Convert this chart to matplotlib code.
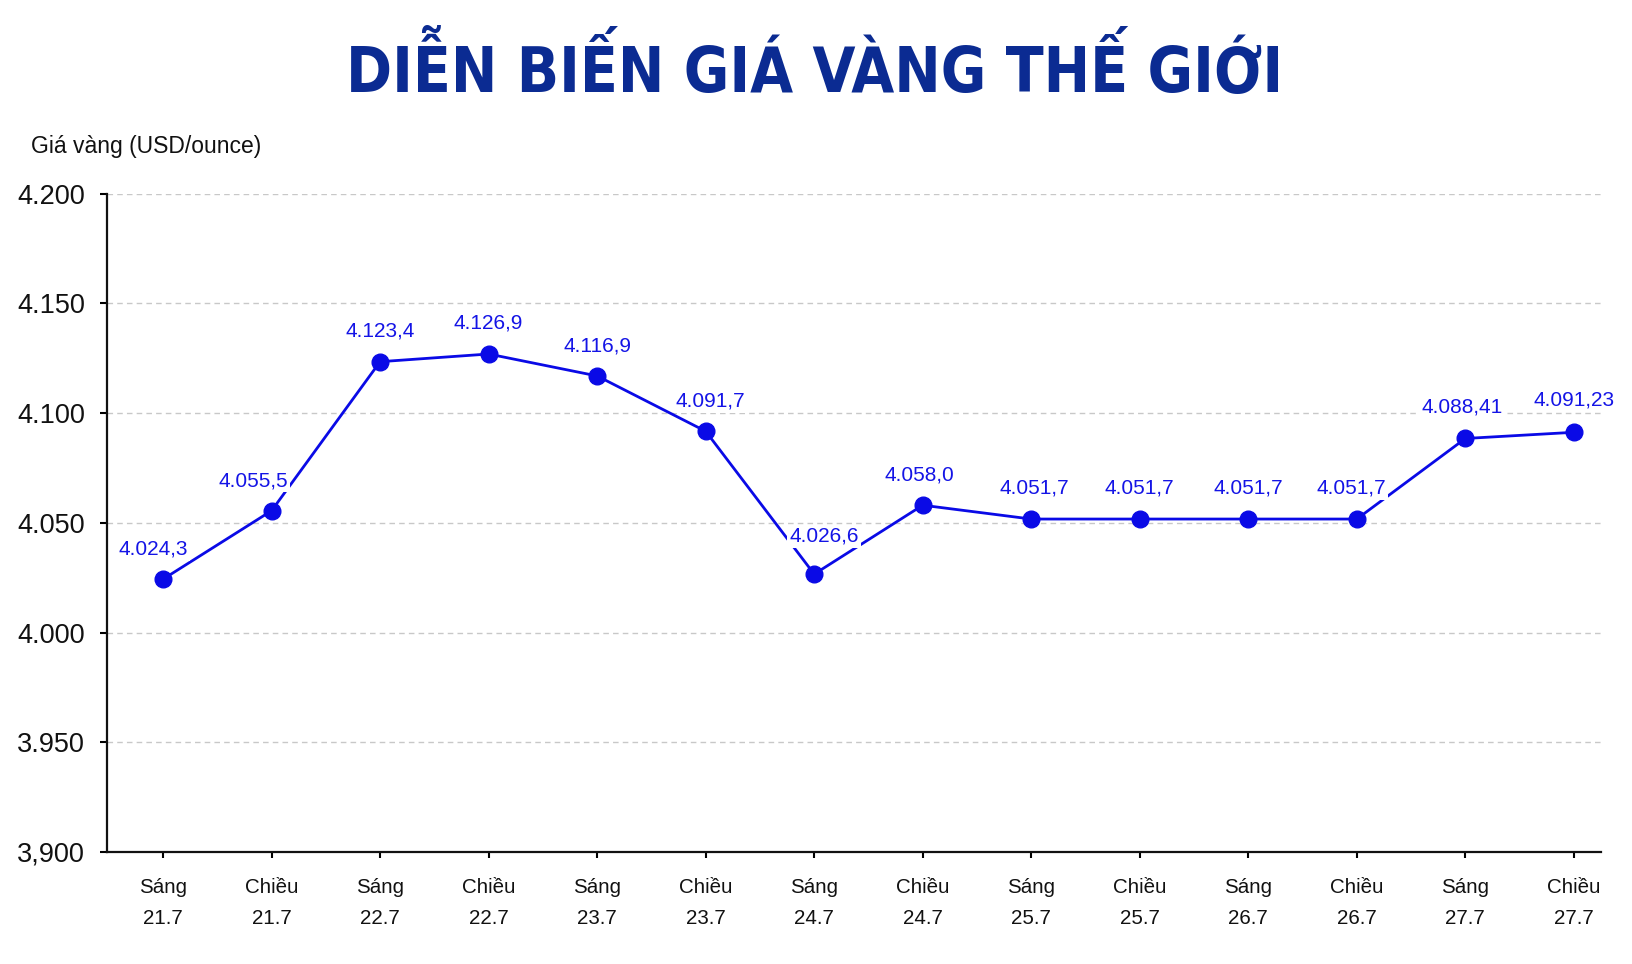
import matplotlib
matplotlib.use("Agg")
import matplotlib.pyplot as plt
from matplotlib import font_manager
from matplotlib.font_manager import FontProperties

plt.rcParams['font.family'] = ['Liberation Sans', 'DejaVu Sans']

# look for a condensed bold face for the title (DejaVu Sans Condensed Bold)
title_font = None
for f in font_manager.fontManager.ttflist:
    if f.name == "DejaVu Sans" and f.stretch == "condensed" and f.weight in (700, "bold"):
        title_font = f.fname
        break

# data
sessions = ["Sáng", "Chiều"] * 7
days = ["21.7", "21.7", "22.7", "22.7", "23.7", "23.7", "24.7",
        "24.7", "25.7", "25.7", "26.7", "26.7", "27.7", "27.7"]
prices = [4024.3, 4055.5, 4123.4, 4126.9, 4116.9, 4091.7, 4026.6,
          4058.0, 4051.7, 4051.7, 4051.7, 4051.7, 4088.41, 4091.23]
decimals = [1, 1, 1, 1, 1, 1, 1, 1, 1, 1, 1, 1, 2, 2]
yticks = [3900, 3950, 4000, 4050, 4100, 4150, 4200]
ytick_labels = ["3,900", "3.950", "4.000", "4.050", "4.100", "4.150", "4.200"]

# label nudges in pixels
label_dx = [-10, -18, 0, 0, 0, 5, 10, -3, 3, 0, 0, -6, -3, 0]
label_dy = [30, 30, 31, 31, 30, 30, 38, 30, 31, 31, 31, 31, 31, 32]

line_color = "#0a0ae6"
label_color = "#1414e6"
title_color = "#0b2b92"


def vn_format(v, d):
    s = f"{v:,.{d}f}"
    return s.replace(",", "X").replace(".", ",").replace("X", ".")


fig = plt.figure(figsize=(16.32, 9.64), dpi=100)
ax = fig.add_axes([0.0656, 0.1162, 0.9154, 0.683])

x = list(range(len(prices)))
ax.plot(x, prices, color=line_color, linewidth=2.0, marker="o",
        markersize=12, zorder=3)

for i, v in enumerate(prices):
    ax.annotate(vn_format(v, decimals[i]), (i, v),
                xytext=(label_dx[i], label_dy[i]), textcoords="offset pixels",
                ha="center", va="center", fontsize=15, color=label_color,
                bbox=dict(boxstyle="square,pad=0.1", fc="white", ec="none"),
                zorder=4)

ax.set_xlim(-0.516, 13.25)
ax.set_ylim(3900, 4200)
ax.set_yticks(yticks)
ax.set_yticklabels(ytick_labels, fontsize=19.5, color="#111111")
ax.set_xticks(x)
ax.set_xticklabels([f"{s}\n{d}" for s, d in zip(sessions, days)],
                   fontsize=14.8, color="#111111", linespacing=1.8)

ax.tick_params(axis="y", length=5, width=1.5, pad=11)
ax.tick_params(axis="x", length=4, width=1.5, pad=15)

ax.grid(axis="y", color="#c8c8c8", linestyle=(0, (4, 3)), linewidth=1.0)
ax.set_axisbelow(True)
for side in ["top", "right"]:
    ax.spines[side].set_visible(False)
for side in ["left", "bottom"]:
    ax.spines[side].set_linewidth(1.6)
    ax.spines[side].set_color("#111111")

fig.text(0.019, 0.848, "Giá vàng (USD/ounce)", fontsize=16.5, color="#111111",
         ha="left", va="center")

if title_font:
    tprops = FontProperties(fname=title_font, size=44.5)
else:
    tprops = FontProperties(family="Liberation Sans", weight="bold", size=44)
fig.text(0.4994, 0.927, "DIỄN BIẾN GIÁ VÀNG THẾ GIỚI", fontproperties=tprops,
         color=title_color, ha="center", va="center")

fig.savefig("out.png", dpi=100, facecolor="white")
